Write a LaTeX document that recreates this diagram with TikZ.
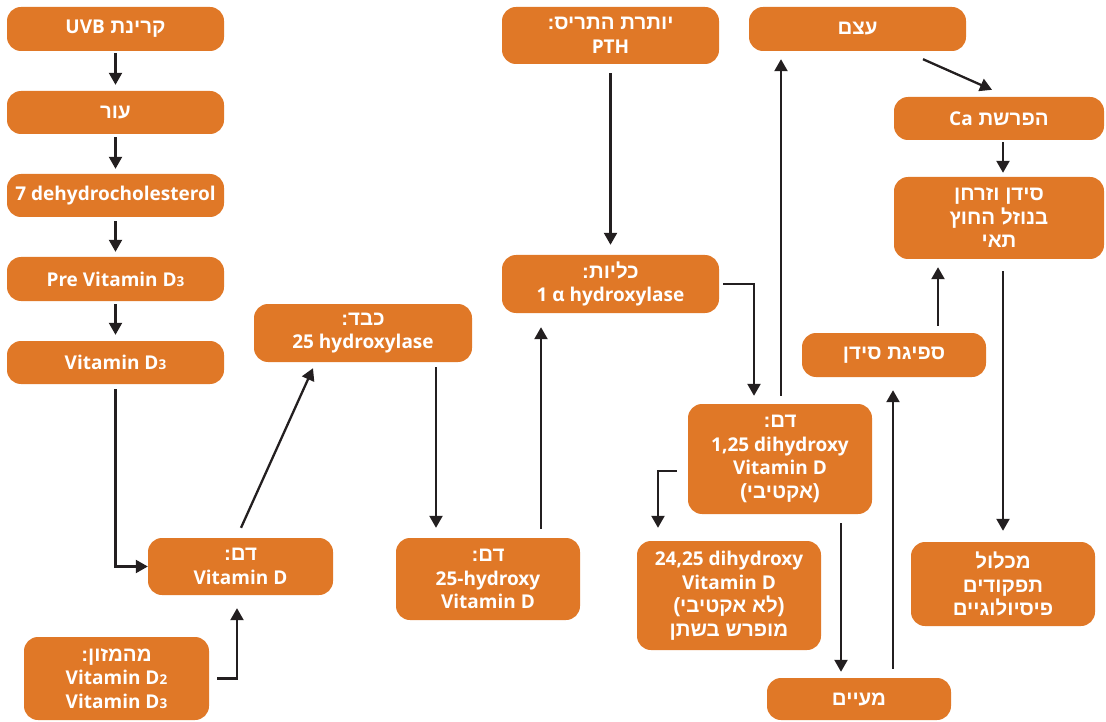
\documentclass[tikz,border=0pt]{standalone}
\usepackage{fontspec}
\setmainfont{Open Sans}
\newfontfamily\hebfont[Script=Hebrew]{Liberation Sans}
\TeXXeTstate=1
\usetikzlibrary{arrows.meta,calc}
\definecolor{boxor}{RGB}{224,120,39}
\definecolor{ink}{RGB}{35,31,32}
\newcommand{\he}[1]{{\hebfont\bfseries\fontsize{20.5}{23.5}\selectfont\beginR #1\endR}}
\newcommand{\lat}[1]{\beginL{\rmfamily\bfseries\fontsize{19}{23.5}\selectfont #1}\endL}
\newcommand{\smalldig}[1]{{\fontsize{13.5}{13.5}\selectfont #1}}
\begin{document}
\begin{tikzpicture}[x=1pt,y=-1pt,
  box/.style={fill=boxor, rounded corners=14pt, text=white,
    font=\bfseries\fontsize{19}{23.5}\selectfont, align=center, inner sep=0pt},
  sz/.style 2 args={minimum width=#1pt, minimum height=#2pt},
  arr/.style={draw=ink, line width=2.3pt, -{Triangle[width=13pt,length=12pt]}}]
\useasboundingbox (0,0) rectangle (1106,722);

% left column
\node[box, sz={217}{44}] (uvb) at (115.5,29) {\he{קרינת \lat{UVB}}};
\node[box, sz={217}{43}] (skin) at (115.5,112.5) {\he{עור}};
\node[box, sz={217}{43}] (dhc) at (115.5,195.5) {7 dehydrocholesterol};
\node[box, sz={217}{44}] (pre) at (115.5,279) {Pre Vitamin D\smalldig{3}};
\node[box, sz={217}{43}] (vd3) at (115.5,362.5) {Vitamin D\smalldig{3}};
\node[box, sz={185}{57}] (blood1) at (240.5,566.5) {\he{דם:}\\Vitamin D};
\node[box, sz={185}{83}] (food) at (116.5,678.5) {\he{מהמזון:}\\Vitamin D\smalldig{2}\\Vitamin D\smalldig{3}};
\node[box, sz={218}{58}] (liver) at (363,333) {\he{כבד:}\\25 hydroxylase};
\node[box, sz={184}{82}] (blood2) at (488,579) {\he{דם:}\\25-hydroxy\\Vitamin D};
\node[box, sz={217}{57}] (pth) at (610.5,35.5) {\he{יותרת התריס:}\\PTH};
\node[box, sz={217}{58}] (kidney) at (610.5,284) {\he{כליות:}\\1 α hydroxylase};
\node[box, sz={184}{110}] (active) at (780,459) {\he{דם:}\\1,25 dihydroxy\\Vitamin D\\\he{(אקטיבי)}};
\node[box, sz={184}{109}] (inactive) at (729,595.5) {24,25 dihydroxy\\Vitamin D\\\he{(לא אקטיבי)}\\\he{מופרש בשתן}};
\node[box, sz={184}{42}] (gut) at (859,699) {\he{מעיים}};
\node[box, sz={217}{44}] (bone) at (857.5,29) {\he{עצם}};
\node[box, sz={210}{43}] (carel) at (999,118.5) {\he{הפרשת \lat{Ca}}};
\node[box, sz={210}{82}] (caecf) at (999,218) {\he{סידן וזרחן}\\\he{בנוזל החוץ}\\\he{תאי}};
\node[box, sz={184}{44}] (absorb) at (894,355) {\he{ספיגת סידן}};
\node[box, sz={184}{84}] (phys) at (1003,584) {\he{מכלול}\\\he{תפקודים}\\\he{פיסיולוגיים}};

% connectors
\draw[arr, shorten <=2pt, shorten >=6pt] (uvb) -- (skin);
\draw[arr, shorten <=3pt, shorten >=5pt] (skin) -- (dhc);
\draw[arr, shorten <=4pt, shorten >=5pt] (dhc) -- (pre);
\draw[arr, shorten <=3pt, shorten >=6pt] (pre) -- (vd3);
\draw[arr, shorten <=5pt] (vd3.south) |- (blood1.west);
\draw[arr] ([xshift=8pt]food.east) -| ($(blood1.south)+(-3.5,13)$);
\draw[arr] ($(blood1.north)+(0.5,-10)$) -- ($(liver.south)+(-50,6)$);
\draw[arr] ($(liver.south)+(73,5)$) -- ($(blood2.north)+(-52,-10)$);
\draw[arr] ($(blood2.north)+(53,-9)$) -- ($(kidney.south)+(-69.5,14)$);
\draw[arr, shorten <=9pt, shorten >=10pt] (pth) -- (kidney);
\draw[arr] ([xshift=4pt]kidney.east) -| ($(active.north)+(-26,-8)$);
\draw[arr] ($(active.north)+(1,-8)$) -- ($(bone.south)+(-76.5,8)$);
\draw[arr] ($(active.west)+(-11,12)$) -| ($(inactive.north)+(-71,-13)$);
\draw[arr] ($(active.south)+(61,9)$) -- ($(gut.north)+(-18,-6)$);
\draw[arr] ($(gut.north)+(34,-9)$) -- ($(absorb.south)+(-1,13)$);
\draw[arr] ($(absorb.north)+(44,-7)$) -- ($(caecf.south)+(-61,8)$);
\draw[arr] ($(bone.south)+(65.5,8)$) -- ($(carel.north)+(-7,-7)$);
\draw[arr] ($(carel.south)+(4,2)$) -- ($(caecf.north)+(4,-4)$);
\draw[arr] ($(caecf.south)+(4,12)$) -- ($(phys.north)+(0,-11)$);
\end{tikzpicture}
\end{document}
